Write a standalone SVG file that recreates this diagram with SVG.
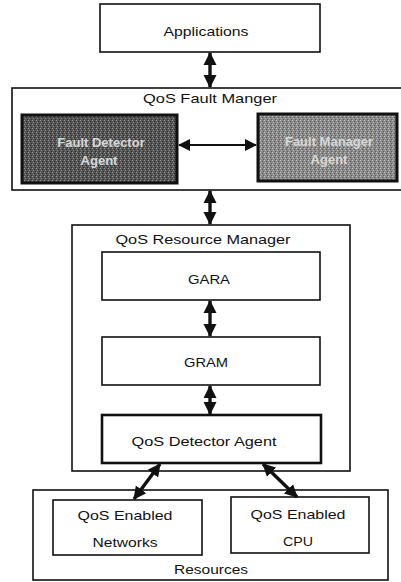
<svg xmlns="http://www.w3.org/2000/svg" width="401" height="582" viewBox="0 0 401 582">
<style>
.box{fill:#fff;stroke:#111;stroke-width:1.6}
.thick{fill:#fff;stroke:#111;stroke-width:2.6}
.lbl{font-family:"Liberation Sans",Arial,sans-serif;font-size:13.5px;fill:#111;text-anchor:middle}
.dlbl{font-family:"Liberation Sans",Arial,sans-serif;font-size:13px;fill:#d8d8d8;text-anchor:middle;font-weight:bold}
.conn{stroke:#111;stroke-width:3.4;fill:none;marker-start:url(#ah);marker-end:url(#ah)}
.thin{stroke:#111;stroke-width:2.2;fill:none;marker-start:url(#ah2);marker-end:url(#ah2)}
</style>
<defs>
<marker id="ah" viewBox="0 0 12 12" refX="11" refY="6" markerWidth="13" markerHeight="15" markerUnits="userSpaceOnUse" orient="auto-start-reverse">
<path d="M0,0 L12,6 L0,12 z" fill="#111"/>
</marker>
<marker id="ah2" viewBox="0 0 12 12" refX="11" refY="6" markerWidth="14" markerHeight="12" markerUnits="userSpaceOnUse" orient="auto-start-reverse">
<path d="M0,0 L12,6 L0,12 z" fill="#111"/>
</marker>
<pattern id="noiseD" width="4" height="4" patternUnits="userSpaceOnUse">
<rect width="4" height="4" fill="#555"/>
<rect x="0" y="0" width="1" height="1" fill="#9a9a9a"/>
<rect x="2" y="1" width="1" height="1" fill="#2a2a2a"/>
<rect x="1" y="2" width="1" height="1" fill="#8a8a8a"/>
<rect x="3" y="3" width="1" height="1" fill="#303030"/>
</pattern>
<pattern id="noiseL" width="4" height="4" patternUnits="userSpaceOnUse">
<rect width="4" height="4" fill="#8a8a8a"/>
<rect x="0" y="0" width="1" height="1" fill="#c4c4c4"/>
<rect x="2" y="1" width="1" height="1" fill="#555"/>
<rect x="1" y="2" width="1" height="1" fill="#b8b8b8"/>
<rect x="3" y="3" width="1" height="1" fill="#606060"/>
</pattern>
</defs>

<g id="applications">
<rect class="box" x="100" y="4" width="220" height="48"/>
<text class="lbl" x="206" y="36" textLength="85" lengthAdjust="spacingAndGlyphs">Applications</text>
</g>

<g id="fault-manager">
<rect class="box" x="12" y="88" width="392" height="102"/>
<text class="lbl" x="210" y="103" textLength="134" lengthAdjust="spacingAndGlyphs">QoS Fault Manger</text>
</g>

<g id="fault-detector-agent">
<rect x="22" y="115" width="155" height="68" fill="url(#noiseD)" stroke="#111" stroke-width="3"/>
<text class="dlbl" x="101" y="147">Fault Detector</text>
<text class="dlbl" x="99" y="165">Agent</text>
</g>

<g id="fault-manager-agent">
<rect x="258" y="114" width="139" height="67" fill="url(#noiseL)" stroke="#111" stroke-width="3"/>
<text class="dlbl" x="329" y="146">Fault Manager</text>
<text class="dlbl" x="329" y="164">Agent</text>
</g>

<g id="resource-manager">
<rect class="box" x="72" y="225" width="278" height="246"/>
<text class="lbl" x="203" y="244" textLength="175" lengthAdjust="spacingAndGlyphs">QoS Resource Manager</text>
</g>

<g id="gara">
<rect class="box" x="102" y="252" width="218" height="48"/>
<text class="lbl" x="209" y="284" textLength="42" lengthAdjust="spacingAndGlyphs">GARA</text>
</g>

<g id="gram">
<rect class="box" x="102" y="337" width="218" height="48"/>
<text class="lbl" x="206" y="367" textLength="44" lengthAdjust="spacingAndGlyphs">GRAM</text>
</g>

<g id="qos-detector-agent">
<rect class="thick" x="102" y="415" width="219" height="48"/>
<text class="lbl" x="204" y="446" textLength="145" lengthAdjust="spacingAndGlyphs">QoS Detector Agent</text>
</g>

<g id="resources">
<rect class="box" x="33" y="490" width="355" height="90"/>
<text class="lbl" x="211" y="574" textLength="74" lengthAdjust="spacingAndGlyphs">Resources</text>
</g>

<g id="qos-enabled-networks">
<rect class="box" x="53" y="500" width="149" height="55"/>
<text class="lbl" x="125" y="520" textLength="95" lengthAdjust="spacingAndGlyphs">QoS Enabled</text>
<text class="lbl" x="125" y="547" textLength="65" lengthAdjust="spacingAndGlyphs">Networks</text>
</g>

<g id="qos-enabled-cpu">
<rect class="box" x="231" y="497" width="138" height="56"/>
<text class="lbl" x="298" y="519" textLength="95" lengthAdjust="spacingAndGlyphs">QoS Enabled</text>
<text class="lbl" x="298" y="546" textLength="30" lengthAdjust="spacingAndGlyphs">CPU</text>
</g>

<g id="connectors">
<line class="conn" x1="210" y1="53" x2="210" y2="87"/>
<line class="thin" x1="179" y1="145" x2="256" y2="145"/>
<line class="conn" x1="210" y1="191" x2="210" y2="224"/>
<line class="conn" x1="210" y1="301" x2="210" y2="336"/>
<line class="conn" x1="210" y1="386" x2="210" y2="414"/>
<line class="conn" x1="160" y1="464" x2="134" y2="499"/>
<line class="conn" x1="263" y1="464" x2="297" y2="497"/>
</g>
</svg>
